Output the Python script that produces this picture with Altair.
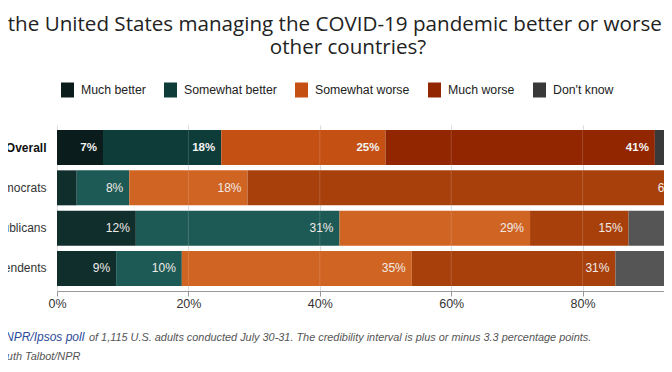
import altair as alt
import pandas as pd

# ---------------- data ----------------
groups = ["Overall", "Democrats", "Republicans", "Independents"]
responses = ["Much better", "Somewhat better", "Somewhat worse", "Much worse", "Don't know"]
overall = [7, 18, 25, 41, 9]
democrats = [3, 8, 18, 67, 4]
republicans = [12, 31, 29, 15, 13]
independents = [9, 10, 35, 31, 15]
x_ticks = [0, 20, 40, 60, 80, 100]
grid_ticks = [20, 40, 60, 80]

overall_colors = ["#0a1c1c", "#0d3c39", "#c45013", "#922600", "#393939"]
party_colors = ["#0f2e2c", "#1e5a55", "#d06422", "#a8400c", "#555555"]

title_line1 = "Is the United States managing the COVID-19 pandemic better or worse than"
title_line2 = "other countries?"
source_prefix = "Source:"
source_link = "NPR/Ipsos poll"
source_rest = "of 1,115 U.S. adults conducted July 30-31. The credibility interval is plus or minus 3.3 percentage points."
credit_prefix = "Credit:"
credit_name = "Ruth Talbot/NPR"

FONT = "Liberation Sans, Arial, sans-serif"
TITLE_FONT = "Open Sans"

rows = []
for g, vals in zip(groups, [overall, democrats, republicans, independents]):
    start = 0
    for r, v in zip(responses, vals):
        rows.append({"group": g, "response": r, "value": v, "start": start,
                     "end": start + v, "label": f"{v}%"})
        start += v
df = pd.DataFrame(rows)
df_overall = df[df.group == "Overall"]
df_party = df[df.group != "Overall"]

# ---------------- encodings ----------------
x_scale = alt.Scale(domain=[0, 100], nice=False, zero=True)
x_axis = alt.Axis(values=x_ticks, labelExpr="datum.value + '%'", domainColor="#999999",
                  tickColor="#999999", tickSize=5, labelPadding=1, labelFontSize=12.5,
                  labelColor="#333333", labelFont=FONT, grid=True, gridColor="#dddddd",
                  labelFlush=False, title=None)
y_enc = alt.Y("group:N", sort=groups, title=None,
              scale=alt.Scale(paddingInner=0.132, paddingOuter=0.124),
              axis=alt.Axis(ticks=False, domain=False, labelPadding=11, labelFontSize=12,
                            labelFont=FONT, grid=False,
                            labelColor={"condition": {"test": "datum.value == 'Overall'", "value": "#111111"}, "value": "#333333"},
                            labelFontWeight={"condition": {"test": "datum.value == 'Overall'", "value": "bold"}, "value": "normal"}))

def xs(field):
    return alt.X(field, scale=x_scale, axis=x_axis, title=None)

bars_overall = alt.Chart(df_overall).mark_bar(strokeWidth=0).encode(
    x=xs("start:Q"), x2="end:Q", y=y_enc,
    color=alt.Color("response:N", sort=responses,
                    scale=alt.Scale(domain=responses, range=overall_colors),
                    legend=alt.Legend(orient="none", legendX=3, legendY=-42.5, direction="horizontal",
                                      columns=5, title=None, padding=0,
                                      symbolType="M-0.867,-1H0.867V1H-0.867Z", symbolSize=225,
                                      symbolStrokeWidth=0, symbolOpacity=1,
                                      labelFont=FONT, labelFontSize=12.3, labelColor="#222222",
                                      labelOffset=6, columnPadding=17, labelLimit=300)),
)

bars_party = alt.Chart(df_party).mark_bar(strokeWidth=0).encode(
    x=xs("start:Q"), x2="end:Q", y=y_enc,
    color=alt.Color("response:N", sort=responses,
                    scale=alt.Scale(domain=responses, range=party_colors), legend=None),
)

grid_overlay = alt.Chart(pd.DataFrame({"v": grid_ticks})).mark_rule(
    color="#e8e8e8", opacity=0.18, strokeWidth=1).encode(x=xs("v:Q"))

labels_overall = alt.Chart(df_overall[df_overall.value >= 5]).mark_text(
    align="right", baseline="middle", dx=-6, font=FONT, fontSize=11.5, fontWeight="bold",
    color="#f4f4f4").encode(x=xs("end:Q"), y=y_enc, text="label:N")

labels_party = alt.Chart(df_party[df_party.value >= 5]).mark_text(
    align="right", baseline="middle", dx=-6, font=FONT, fontSize=12, color="#f0ebe8").encode(
    x=xs("end:Q"), y=y_enc, text="label:N")

def note(txt, x, y, align="left", color="#555555", size=10.9, italic=True, font=FONT, weight="normal"):
    return alt.Chart(pd.DataFrame({"t": [txt]})).mark_text(
        align=align, baseline="alphabetic", font=font, fontSize=size,
        fontStyle="italic" if italic else "normal", fontWeight=weight, color=color).encode(
        text="t:N", x=alt.value(x), y=alt.value(y))

t1 = note(title_line1, 292, -94, align="center", color="#222222", size=20.6, italic=False, font=TITLE_FONT)
t2 = note(title_line2, 291, -71, align="center", color="#222222", size=20.6, italic=False, font=TITLE_FONT)
f1a = note(source_prefix, -55, 216, align="right", size=12)
f1b = note(source_link, -52, 216, color="#2b4c9a", size=12)
f1c = note(source_rest, 32, 216)
f2a = note(credit_prefix, -61, 235, align="right")
f2b = note(credit_name, -58, 235)

chart = alt.layer(
    bars_overall, bars_party, grid_overlay, labels_overall, labels_party,
    t1, t2, f1a, f1b, f1c, f2a, f2b
).resolve_scale(color="independent").properties(
    width=657, height=166,
    autosize=alt.AutoSizeParams(type="none"),
    padding={"left": 49, "top": 117, "right": -50, "bottom": 73},
    background="white",
).configure_view(stroke=None)

chart.save("out.html", embed_options={"renderer": "svg", "actions": False})
